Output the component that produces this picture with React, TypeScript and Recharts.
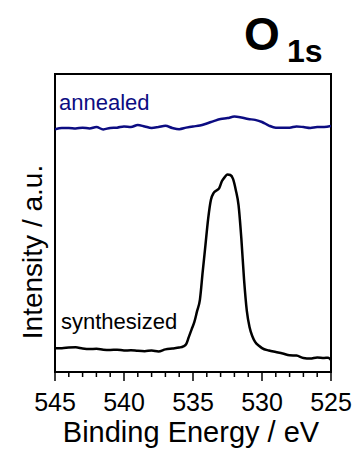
import { Customized, Line, LineChart, ReferenceArea, XAxis, YAxis } from "recharts";

const FONT = "'Liberation Sans', Arial, sans-serif";
const NAVY = "#0c0c82";

const energyTicks = [
  545, 544, 543, 542, 541, 540, 539, 538, 537, 536, 535, 534, 533, 532, 531,
  530, 529, 528, 527, 526, 525,
];

const annealedEnergy = [
  545, 544.5, 544, 543.5, 543, 542.5, 542, 541.5, 541, 540.5, 540, 539.5, 539,
  538.5, 538, 537.5, 537, 536.5, 536, 535.5, 535, 534.5, 534, 533.5, 533,
  532.5, 532, 531.5, 531, 530.5, 530, 529.5, 529, 528.5, 528, 527.5, 527,
  526.5, 526, 525.5, 525,
];
const annealedIntensity = [
  81.4, 81.9, 81.9, 81.7, 82.0, 81.7, 82.2, 81.4, 81.9, 82.0, 82.4, 82.2, 82.9,
  82.4, 81.9, 82.2, 82.6, 81.9, 81.5, 82.0, 82.4, 82.7, 83.4, 84.2, 84.9,
  85.2, 85.7, 85.4, 84.9, 84.6, 83.9, 82.7, 82.0, 82.0, 82.0, 82.4, 82.2,
  81.9, 82.2, 82.2, 82.6,
];

const synthesizedEnergy = [
  545, 544.5, 544, 543.5, 543, 542.5, 542, 541.5, 541, 540.5, 540, 539.5, 539,
  538.5, 538, 537.5, 537, 536.5, 536, 535.7, 535.5, 535.3, 535.1, 534.9,
  534.7, 534.5, 534.3, 534.1, 533.9, 533.7, 533.5, 533.3, 533.1, 532.9,
  532.7, 532.5, 532.3, 532.1, 531.9, 531.7, 531.5, 531.3, 531.1, 530.9,
  530.7, 530.5, 530.2, 530, 529.5, 529, 528.5, 528, 527.5, 527, 526.5, 526,
  525.5, 525.2, 525,
];
const synthesizedIntensity = [
  8.0, 8.0, 8.2, 8.3, 7.9, 7.7, 7.8, 7.5, 7.4, 7.5, 7.2, 7.3, 7.1, 7.0, 7.2,
  6.9, 7.6, 7.9, 8.2, 8.6, 9.3, 11.8, 14.3, 16.8, 20.5, 24.2, 33.5, 42.5, 51.5,
  57.8, 60.1, 60.9, 61.7, 64.1, 65.4, 66.3, 66.1, 64.8, 61.1, 56.0, 45.0,
  31.0, 20.5, 15.0, 12.0, 10.1, 8.7, 8.0, 7.2, 6.7, 6.2, 5.6, 5.5, 4.7, 4.5,
  4.9, 4.7, 4.8, 4.0,
];

const annealedData = annealedEnergy.map((energy, i) => ({
  energy,
  intensity: annealedIntensity[i],
}));
const synthesizedData = synthesizedEnergy.map((energy, i) => ({
  energy,
  intensity: synthesizedIntensity[i],
}));

function BottomTick(props: any) {
  const { x, y, payload } = props;
  const major = payload.value % 5 === 0;
  return (
    <g>
      <line x1={x} x2={x} y1={y} y2={y + (major ? 9 : 5)} stroke="#000" strokeWidth={1.5} />
      {major && (
        <text x={x} y={y + 39} textAnchor="middle" fontSize={25} fontFamily={FONT} fill="#000">
          {payload.value}
        </text>
      )}
    </g>
  );
}

function TopTick(props: any) {
  const { x, y } = props;
  return <line x1={x} x2={x} y1={y} y2={y + 3} stroke="#000" strokeWidth={1} />;
}

function Annotations() {
  return (
    <g fontFamily={FONT}>
      <text x={244} y={50} fontSize={46} fontWeight="bold" fill="#000">
        O
      </text>
      <text x={287} y={62} fontSize={32} fontWeight="bold" fill="#000">
        1s
      </text>
      <text x={59} y={110} fontSize={22} fill={NAVY}>
        annealed
      </text>
      <text x={61} y={329} fontSize={22} fill="#000">
        synthesized
      </text>
      <text
        x={42}
        y={252}
        fontSize={28}
        textAnchor="middle"
        transform="rotate(-90, 42, 252)"
        fill="#000"
      >
        Intensity / a.u.
      </text>
      <text x={191} y={442} fontSize={29} textAnchor="middle" fill="#000">
        Binding Energy / eV
      </text>
    </g>
  );
}

export default function App() {
  return (
    <div style={{ position: "absolute", left: 0, top: 0, background: "#fff" }}>
      <LineChart
        width={353}
        height={449}
        margin={{ top: 74, right: 22, left: 55, bottom: 0 }}
      >
        <XAxis
          dataKey="energy"
          type="number"
          domain={[525, 545]}
          reversed
          ticks={energyTicks}
          interval={0}
          height={77}
          tickLine={false}
          tickSize={0}
          tickMargin={0}
          axisLine={false}
          tick={<BottomTick />}
          allowDataOverflow
        />
        <XAxis
          xAxisId="top"
          orientation="top"
          dataKey="energy"
          type="number"
          domain={[525, 545]}
          reversed
          ticks={energyTicks}
          interval={0}
          height={0}
          tickLine={false}
          tickSize={0}
          tickMargin={0}
          axisLine={false}
          tick={<TopTick />}
        />
        <YAxis hide type="number" domain={[0, 100]} allowDataOverflow />
        <ReferenceArea
          x1={545}
          x2={525}
          y1={0}
          y2={100}
          fill="none"
          fillOpacity={0}
          stroke="#000"
          strokeWidth={2}
        />
        <Line
          data={annealedData}
          dataKey="intensity"
          type="monotone"
          stroke={NAVY}
          strokeWidth={2.5}
          dot={false}
          isAnimationActive={false}
        />
        <Line
          data={synthesizedData}
          dataKey="intensity"
          type="monotone"
          stroke="#000"
          strokeWidth={2.5}
          dot={false}
          isAnimationActive={false}
        />
        <Customized component={<Annotations />} />
      </LineChart>
    </div>
  );
}
